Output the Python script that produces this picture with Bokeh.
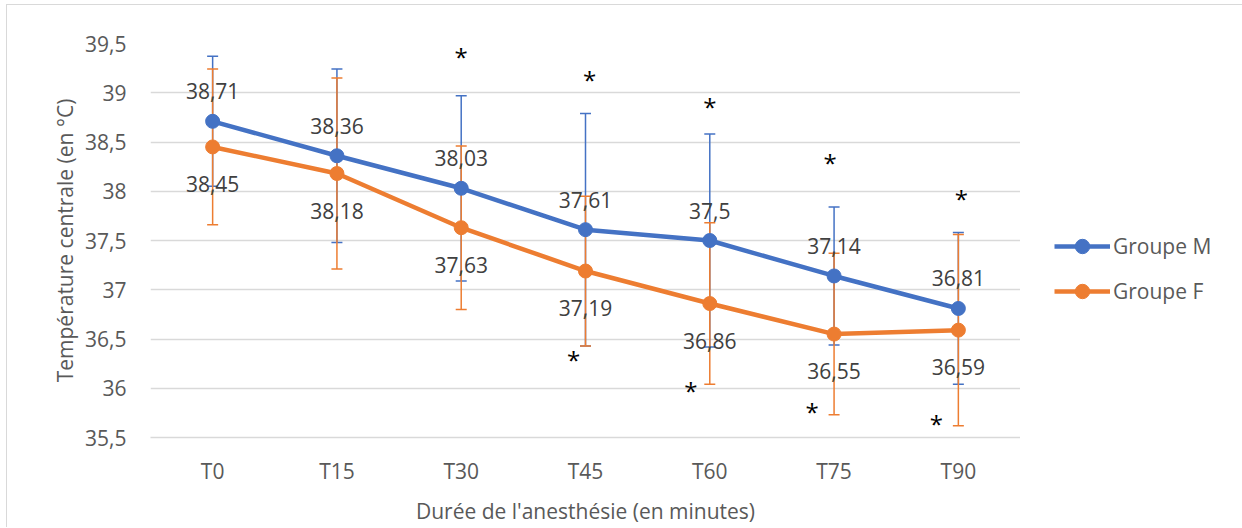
from bokeh.plotting import figure
from bokeh.models import (FactorRange, Range1d, FixedTicker, CustomJSTickFormatter,
                          Legend, LegendItem, ColumnDataSource, Spacer)
from bokeh.layouts import row, column
from bokeh.core.properties import value
from bokeh.embed import file_html
from bokeh.resources import INLINE

# ---------------- data ----------------
categories = ["T0", "T15", "T30", "T45", "T60", "T75", "T90"]
groupe_m = [38.71, 38.36, 38.03, 37.61, 37.5, 37.14, 36.81]
groupe_m_sd = [0.66, 0.88, 0.94, 1.18, 1.08, 0.70, 0.77]
groupe_f = [38.45, 38.18, 37.63, 37.19, 36.86, 36.55, 36.59]
groupe_f_sd = [0.79, 0.97, 0.83, 0.76, 0.82, 0.82, 0.97]
y_ticks = [35.5, 36, 36.5, 37, 37.5, 38, 38.5, 39, 39.5]
series_names = ["Groupe M", "Groupe F"]

# significance markers (asterisks)
star_top_cat = ["T30", "T45", "T60", "T75", "T90"]
star_top_y = [39.39, 39.15, 38.88, 38.31, 37.95]
star_bot_cat = ["T45", "T60", "T75", "T90"]
star_bot_y = [36.31, 36.0, 35.78, 35.66]

# ---------------- style ----------------
FONT = "Open Sans"
BLUE = "#4472C4"
ORANGE = "#ED7D31"
GRID = "#d9d9d9"
AXIS_TXT = "#595959"
LABEL_TXT = "#404040"
star_top_dx = [0, 4, 0, -4, 3]
star_bot_dx = [-12, -19, -22, -22]


def fmt(v):
    s = ("%.2f" % v).rstrip("0").rstrip(".")
    return s.replace(".", ",")


p = figure(width=1013, height=522, x_range=FactorRange(*categories, range_padding=0),
           y_range=Range1d(35.5, 39.5), output_backend="svg", toolbar_location=None,
           min_border_left=143, min_border_right=0, min_border_top=38, min_border_bottom=90)
p.outline_line_color = None
p.background_fill_color = "white"
p.border_fill_color = "white"

# axes
p.yaxis.ticker = FixedTicker(ticks=y_ticks)
p.yaxis.formatter = CustomJSTickFormatter(code="""
    const s = (Math.round(tick*10)/10).toString();
    return s.replace('.', ',');
""")
for ax in (p.xaxis[0], p.yaxis[0]):
    ax.major_tick_line_color = None
    ax.minor_tick_line_color = None
    ax.major_label_text_font = FONT
    ax.major_label_text_font_size = "21px"
    ax.major_label_text_color = AXIS_TXT
    ax.axis_label_text_font = FONT
    ax.axis_label_text_font_size = "21px"
    ax.axis_label_text_color = AXIS_TXT
    ax.axis_label_text_font_style = "normal"
p.yaxis.axis_line_color = None
p.xaxis.axis_line_color = GRID
p.xaxis.axis_line_width = 1.3
p.yaxis.major_label_standoff = 18
p.yaxis.axis_label_standoff = 3
p.xaxis.major_label_standoff = 13
p.xaxis.axis_label_standoff = 9
p.yaxis.axis_label = "Température centrale (en °C)"
p.xaxis.axis_label = "Durée de l'anesthésie (en minutes)"

p.xgrid.grid_line_color = None
p.ygrid.ticker = FixedTicker(ticks=y_ticks)
p.ygrid.grid_line_color = GRID
p.ygrid.grid_line_width = 1.3

# sources
src_m = ColumnDataSource(dict(
    x=categories, y=groupe_m,
    lo=[m - s for m, s in zip(groupe_m, groupe_m_sd)],
    hi=[m + s for m, s in zip(groupe_m, groupe_m_sd)],
    lab=[fmt(v) for v in groupe_m]))
src_f = ColumnDataSource(dict(
    x=categories, y=groupe_f,
    lo=[m - s for m, s in zip(groupe_f, groupe_f_sd)],
    hi=[m + s for m, s in zip(groupe_f, groupe_f_sd)],
    lab=[fmt(v) for v in groupe_f]))

# error bars
for src, col in ((src_m, BLUE), (src_f, ORANGE)):
    p.segment(x0="x", y0="lo", x1="x", y1="hi", source=src, line_color=col, line_width=1.5)
    p.scatter(x="x", y="hi", source=src, marker="dash", size=11, line_color=col, line_width=1.5)
    p.scatter(x="x", y="lo", source=src, marker="dash", size=11, line_color=col, line_width=1.5)

# lines and markers
p.line(x="x", y="y", source=src_m, line_color=BLUE, line_width=4.5, line_join="round")
p.line(x="x", y="y", source=src_f, line_color=ORANGE, line_width=4.5, line_join="round")
p.scatter(x="x", y="y", source=src_m, size=14, fill_color=BLUE, line_color=BLUE)
p.scatter(x="x", y="y", source=src_f, size=14, fill_color=ORANGE, line_color=ORANGE)

# data labels
p.text(x="x", y="y", text="lab", source=src_m, y_offset=-30, text_align="center",
       text_baseline="middle", text_font=value(FONT), text_font_size="21px", text_color=LABEL_TXT)
p.text(x="x", y="y", text="lab", source=src_f, y_offset=37, text_align="center",
       text_baseline="middle", text_font=value(FONT), text_font_size="21px", text_color=LABEL_TXT)

# asterisks
p.text(x=star_top_cat, y=star_top_y, text=["*"] * len(star_top_cat), x_offset=star_top_dx,
       y_offset=2, text_align="center", text_baseline="middle", text_font=value(FONT),
       text_font_size="24px", text_color="black")
p.text(x=star_bot_cat, y=star_bot_y, text=["*"] * len(star_bot_cat), x_offset=star_bot_dx,
       y_offset=2, text_align="center", text_baseline="middle", text_font=value(FONT),
       text_font_size="24px", text_color="black")

# legend panel (separate figure so the legend is not clipped by the plot frame);
# its renderers reuse the series sources, which fall outside this panel's y range.
pl = figure(width=220, height=522, x_range=FactorRange(*categories), y_range=Range1d(0, 1),
            output_backend="svg", toolbar_location=None, x_axis_location=None,
            y_axis_location=None, min_border_left=0, min_border_right=0,
            min_border_top=38, min_border_bottom=90)
pl.outline_line_color = None
pl.grid.visible = False
pl.background_fill_color = "white"
pl.border_fill_color = "white"
leg_items = []
for name, src, col in zip(series_names, (src_m, src_f), (BLUE, ORANGE)):
    lr = pl.line(x="x", y="y", source=src, line_color=col, line_width=4.5)
    sr = pl.scatter(x="x", y="y", source=src, fill_color=col, line_color=col)
    leg_items.append(LegendItem(label=name, renderers=[lr, sr], index=0))
legend = Legend(items=leg_items, location=(34, 128), glyph_width=56, glyph_height=36,
                label_standoff=3, spacing=9, padding=0, margin=0, background_fill_alpha=0,
                border_line_color=None, label_text_font=FONT, label_text_font_size="21px",
                label_text_color=AXIS_TXT)
pl.add_layout(legend)

# chart-area border (top and left edges visible in the reference crop)
hline = Spacer(width=1236, height=1, background=GRID)
vline = Spacer(width=1, height=522, background=GRID)
layout = column(Spacer(width=10, height=4),
                row(Spacer(width=6, height=10),
                    column(hline, row(vline, p, pl))))

open("out.html", "w").write(file_html(layout, INLINE))
